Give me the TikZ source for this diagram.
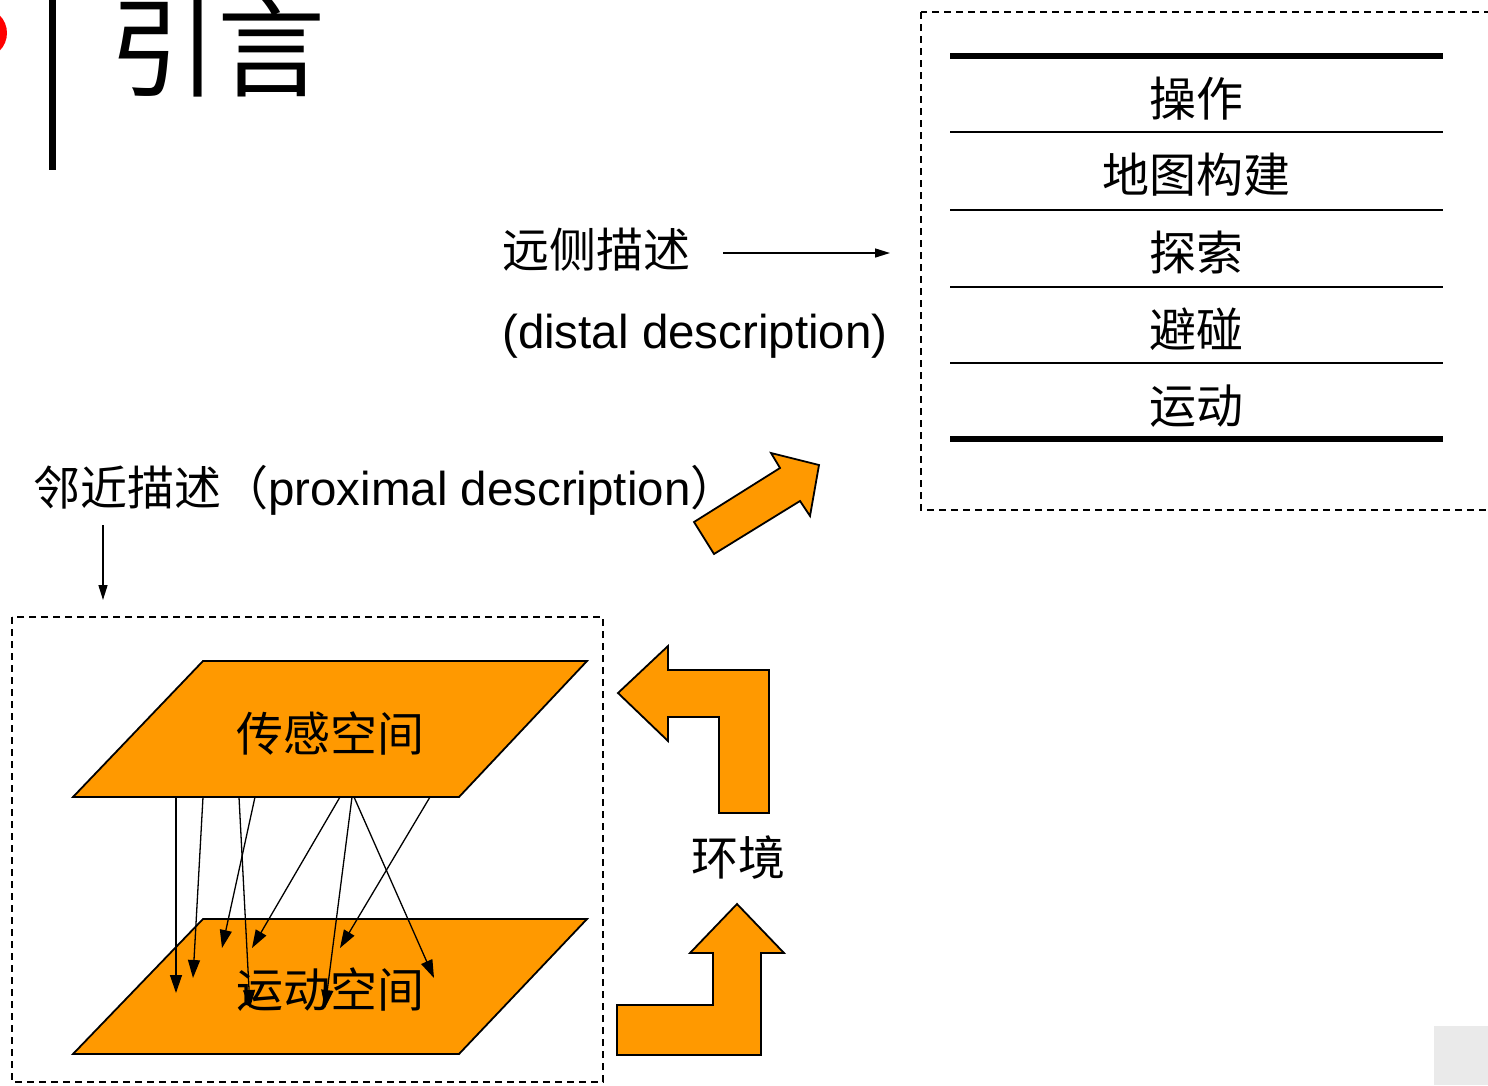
\documentclass[tikz,border=0pt]{standalone}
\usepackage{fontspec}
\setmainfont{Liberation Sans}
\newfontfamily\cjk{Noto Sans CJK SC}
\usetikzlibrary{arrows.meta}
\definecolor{orangef}{RGB}{255,153,0}
\definecolor{grayb}{RGB}{234,234,234}
\tikzset{
  cn/.style={font=\cjk\fontsize{47}{52}\selectfont, inner sep=0pt},
  lat/.style={font=\fontsize{47.5}{52}\selectfont, inner sep=0pt},
  plane/.style={draw=black, line width=1.8pt, fill=orangef, line join=miter},
  barrow/.style={draw=black, line width=1.8pt, fill=orangef, line join=miter},
  dbox/.style={draw=black, line width=1.6pt, dash pattern=on 7pt off 5pt},
  thinline/.style={line width=2.6pt},
  thickline/.style={line width=6pt},
  link/.style={line width=1.3pt, -{Triangle[length=18pt,width=12pt]}},
  pointer/.style={line width=1.5pt, -{Triangle[length=15pt,width=9pt]}}
}
\begin{document}
\begin{tikzpicture}[x=1pt,y=-1pt]
\useasboundingbox (0,0) rectangle (1488,1085);
\clip (0,0) rectangle (1488,1085);
% header
\fill[red] (-18,33) circle (25);
\draw[line width=7pt] (52,0) -- (52,170);
\node[inner sep=0pt, font=\cjk\fontsize{108}{112}\selectfont] (title) at (217,47) {引言};
% right table box
\draw[dbox] (921,12) rectangle (1500,510);
\draw[thickline] (950,56) -- (1443,56);
\draw[thinline] (950,132) -- (1443,132);
\draw[thinline] (950,210) -- (1443,210);
\draw[thinline] (950,287) -- (1443,287);
\draw[thinline] (950,363) -- (1443,363);
\draw[thickline] (950,439) -- (1443,439);
\node[cn] (op) at (1196,99) {操作};
\node[cn] (map) at (1196,175) {地图构建};
\node[cn] (exp) at (1196,252) {探索};
\node[cn] (avoid) at (1196,329) {避碰};
\node[cn] (move) at (1196,406) {运动};
% distal
\node[cn, anchor=west] (distal) at (502,250) {远侧描述};
\coordinate (dstart) at (723,253);
\coordinate (dend) at (890,253);
\draw[pointer] (dstart) -- (dend);
\node[lat, anchor=west] (distalen) at (502,336) {(distal description)};
% proximal
\node[anchor=west, inner sep=0pt] (prox) at (33,490) {\cjk\fontsize{47}{52}\selectfont 邻近描述（\fontspec{Liberation Sans}\fontsize{47.5}{52}\selectfont proximal description\cjk\fontsize{47}{52}\selectfont ）};
\coordinate (pstart) at (103,525);
\coordinate (pend) at (103,600);
\draw[pointer] (pstart) -- (pend);
% diagonal arrow
\draw[barrow] (694,522) -- (780,468) -- (771,453) -- (819,465) -- (810,516) -- (800,501) -- (714,554) -- cycle;
% lower-left box
\draw[dbox] (12,617) rectangle (603,1082);
\draw[plane] (203,661) -- (587,661) -- (459,797) -- (73,797) -- cycle;
\draw[plane] (203,919) -- (587,919) -- (459,1054) -- (73,1054) -- cycle;
\node[cn] (sense) at (330,733) {传感空间};
\node[cn] (motor) at (330,990) {运动空间};
% links
\foreach \i/\sx/\ex/\ey in {1/176/176/993, 2/203/193/978, 3/239/250/1008, 4/255/222/948, 5/340/252/948, 6/352/325/1008, 7/354/434/978, 8/430/340/948}{
  \coordinate (s\i) at (\sx,797);
  \coordinate (e\i) at (\ex,\ey);
  \draw[link] (s\i) -- (e\i);
}
% bent arrows
\draw[barrow] (618,693) -- (668,646) -- (668,670) -- (769,670) -- (769,813) -- (719,813) -- (719,717) -- (668,717) -- (668,741) -- cycle;
\draw[barrow] (737,904) -- (784,953) -- (761,953) -- (761,1055) -- (617,1055) -- (617,1005) -- (713,1005) -- (713,953) -- (690,953) -- cycle;
\node[cn] (env) at (738,858) {环境};
% gray corner
\fill[grayb] (1434,1026) rectangle (1488,1085);
\end{tikzpicture}
\end{document}
